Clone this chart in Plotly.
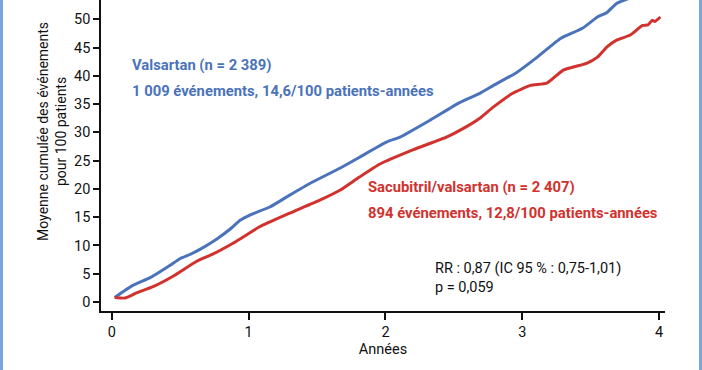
import plotly.graph_objects as go

# Data
val_years = [0.02, 0.15, 0.28, 0.42, 0.50, 0.57, 0.65, 0.77, 0.87, 0.94, 1.02, 1.155, 1.30, 1.45,
             1.67, 1.81, 2.01, 2.11, 2.33, 2.545, 2.69, 2.79, 2.96, 3.11, 3.28, 3.44, 3.55,
             3.62, 3.69, 3.77, 3.85]
val_events = [0.8, 2.9, 4.3, 6.4, 7.7, 8.4, 9.4, 11.2, 13.0, 14.5, 15.5, 16.8, 18.9, 21.0,
              23.7, 25.6, 28.3, 29.2, 32.2, 35.3, 36.9, 38.3, 40.6, 43.3, 46.6, 48.4, 50.4,
              51.2, 52.8, 53.6, 54.6]

sac_years = [0.02, 0.095, 0.18, 0.30, 0.45, 0.62, 0.74, 0.885, 0.94, 1.08, 1.30, 1.52, 1.67,
             1.81, 1.96, 2.20, 2.45, 2.57, 2.69, 2.79, 2.93, 3.06, 3.18, 3.30, 3.47,
             3.55, 3.62, 3.69, 3.79, 3.88, 3.92, 3.95, 3.97, 4.01]
sac_events = [0.8, 0.7, 1.6, 2.7, 4.6, 7.2, 8.5, 10.4, 11.2, 13.3, 15.7, 18.0, 19.8,
              22.1, 24.4, 26.9, 29.2, 30.7, 32.5, 34.5, 36.9, 38.3, 38.7, 41.0, 42.2,
              43.3, 45.1, 46.3, 47.2, 48.9, 49.0, 49.8, 49.6, 50.4]

x_ticks = [0, 1, 2, 3, 4]
y_ticks = [0, 5, 10, 15, 20, 25, 30, 35, 40, 45, 50]

BLUE = "#4a73ba"
RED = "#d1322e"

fig = go.Figure()
fig.add_trace(go.Scatter(x=val_years, y=val_events, mode="lines",
                         line=dict(color=BLUE, width=3, shape="spline", smoothing=0.5),
                         showlegend=False, hoverinfo="skip"))
fig.add_trace(go.Scatter(x=sac_years, y=sac_events, mode="lines",
                         line=dict(color=RED, width=3, shape="spline", smoothing=0.5),
                         showlegend=False, hoverinfo="skip"))

ann = [
    dict(x=0.13, y=41.9, text="<b>Valsartan (n = 2 389)</b>", color=BLUE),
    dict(x=0.13, y=37.3, text="<b>1 009 événements, 14,6/100 patients-années</b>", color=BLUE),
    dict(x=1.857, y=20.3, text="<b>Sacubitril/valsartan (n = 2 407)</b>", color=RED),
    dict(x=1.857, y=15.7, text="<b>894 événements, 12,8/100 patients-années</b>", color=RED),
]
annotations = []
for a in ann:
    annotations.append(dict(x=a["x"], y=a["y"], xref="x", yref="y", text=a["text"],
                            showarrow=False, xanchor="left", yanchor="middle",
                            font=dict(family="Roboto", size=14.8, color=a["color"])))
annotations.append(dict(x=2.347, y=4.2, xref="x", yref="y",
                        text="RR : 0,87 (IC 95 % : 0,75-1,01)<br>p = 0,059",
                        showarrow=False, xanchor="left", yanchor="middle", align="left",
                        font=dict(family="Roboto", size=14.5, color="#111111")))
annotations.append(dict(x=(52 - 101) / 564, y=(311 - 132) / 311, xref="paper", yref="paper",
                        text="Moyenne cumulée des événements<br>pour 100 patients",
                        textangle=-90, showarrow=False, xanchor="center", yanchor="middle",
                        font=dict(family="Roboto", size=14, color="#111111")))

fig.update_layout(
    width=702, height=370,
    margin=dict(l=101, r=37, t=0, b=59),
    paper_bgcolor="white", plot_bgcolor="white",
    font=dict(family="Roboto", size=14.5, color="#111111"),
    annotations=annotations,
    xaxis=dict(range=[-0.08, 4.044], tickvals=x_ticks, ticktext=[str(v) for v in x_ticks],
               showgrid=False, zeroline=False, showline=True, linecolor="#111111", linewidth=1.5,
               ticks="outside", ticklen=7, tickwidth=1.5, tickcolor="#111111",
               title=dict(text="Années", font=dict(family="Roboto", size=14.5), standoff=2)),
    yaxis=dict(range=[-1.59, 53.4], tickvals=y_ticks, ticktext=[str(v) for v in y_ticks],
               showgrid=False, zeroline=False, showline=True, linecolor="#111111", linewidth=1.5,
               ticks="outside", ticklen=6, tickwidth=1.5, tickcolor="#111111"),
    shapes=[
        dict(type="rect", xref="paper", yref="paper", x0=-101/564, x1=-98/564, y0=-59/311, y1=1,
             fillcolor="#7aa4dc", line=dict(width=0), layer="above"),
        dict(type="rect", xref="paper", yref="paper", x0=598/564, x1=601/564, y0=-59/311, y1=1,
             fillcolor="#7aa4dc", line=dict(width=0), layer="above"),
    ],
)

fig.write_html("out.html", config={"displayModeBar": False},
               post_script="document.body.style.margin='0';document.body.style.overflow='hidden';")
